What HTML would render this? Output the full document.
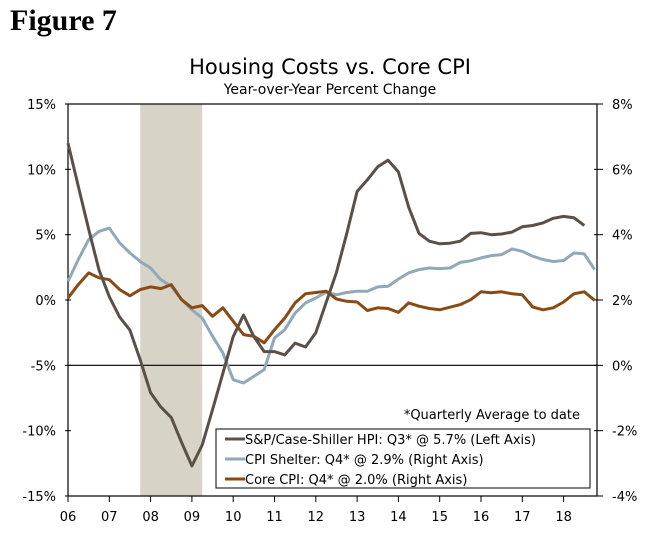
<!DOCTYPE html>
<html><head><meta charset="utf-8"><style>
body{margin:0;background:#fff;width:656px;height:529px;overflow:hidden}
svg text{font-family:"DejaVu Sans","Liberation Sans",sans-serif;fill:#000}
</style></head><body>
<svg id="chart" width="656" height="529">
<text x="10" y="30" style="font-family:'Liberation Serif',serif;font-weight:bold;font-size:30px">Figure 7</text>
<text x="330" y="74" text-anchor="middle" font-size="21">Housing Costs vs. Core CPI</text>
<text x="330" y="94" text-anchor="middle" font-size="14">Year-over-Year Percent Change</text>
<g id="plot"></g>
</svg>
<script>
const years=["06","07","08","09","10","11","12","13","14","15","16","17","18"];
const leftTicks=[15,10,5,0,-5,-10,-15];
const rightTicks=[8,6,4,2,0,-2,-4];
const recession=[2007.75,2009.25];
const hpi=[12.0,8.7,5.4,2.3,0.25,-1.3,-2.3,-4.6,-7.1,-8.2,-9.0,-10.9,-12.7,-11.1,-8.4,-5.6,-2.8,-1.15,-2.8,-3.95,-3.95,-4.2,-3.3,-3.6,-2.5,-0.2,2.1,5.1,8.3,9.2,10.2,10.7,9.8,7.1,5.1,4.5,4.3,4.35,4.5,5.1,5.15,5.0,5.05,5.2,5.6,5.7,5.9,6.25,6.4,6.3,5.7];
const shelter=[2.57,3.24,3.85,4.1,4.2,3.75,3.44,3.18,2.98,2.62,2.42,2.01,1.7,1.45,0.89,0.38,-0.44,-0.54,-0.34,-0.13,0.84,1.09,1.6,1.91,2.06,2.24,2.16,2.23,2.27,2.27,2.4,2.42,2.64,2.83,2.93,2.98,2.96,2.98,3.15,3.2,3.29,3.36,3.39,3.56,3.49,3.34,3.24,3.18,3.21,3.44,3.41,2.93];
const core=[2.06,2.47,2.83,2.68,2.62,2.32,2.13,2.32,2.4,2.35,2.47,2.01,1.76,1.83,1.5,1.76,1.35,0.94,0.89,0.69,1.09,1.45,1.91,2.19,2.23,2.27,2.03,1.96,1.94,1.68,1.76,1.74,1.62,1.91,1.81,1.74,1.7,1.78,1.86,2.01,2.25,2.22,2.25,2.19,2.16,1.79,1.7,1.76,1.94,2.19,2.25,1.99];
const legendLabels=["S&P/Case-Shiller HPI: Q3* @ 5.7% (Left Axis)","CPI Shelter: Q4* @ 2.9% (Right Axis)","Core CPI: Q4* @ 2.0% (Right Axis)"];

const L=68,R=597,T=104,B=496;
const xT=t=>L+(t-2006)*41.3;
const xQ=i=>xT(2006+i/4);
const yL=v=>T+(15-v)*(B-T)/30;
const yR=v=>T+(8-v)*(B-T)/12;
const NS="http://www.w3.org/2000/svg";
const g=document.getElementById('plot');
function mk(tag,at,txt){const e=document.createElementNS(NS,tag);for(const k in at)e.setAttribute(k,at[k]);if(txt!==undefined)e.textContent=txt;g.appendChild(e);return e;}

let e=mk('rect',{x:xT(recession[0]),y:T,width:xT(recession[1])-xT(recession[0]),height:B-T,fill:'#d8d3c7'});


e=mk('rect',{x:L,y:T,width:R-L,height:B-T,fill:'none',stroke:'#000','stroke-width':1.2});


e=mk('line',{x1:L,x2:R,y1:yR(0),y2:yR(0),stroke:'#000','stroke-width':1.2});



leftTicks.forEach(v=>{
 e=mk('line',{x1:L-3,x2:L+3,y1:yL(v),y2:yL(v),stroke:'#000'});
 
 
 e=mk('text',{x:56,y:yL(v)+5,'text-anchor':'end','font-size':13},v+'%');
 
 
});
rightTicks.forEach(v=>{
 e=mk('line',{x1:R-3,x2:R+6,y1:yR(v),y2:yR(v),stroke:'#000'});
 
 
 e=mk('text',{x:612,y:yR(v)+5,'font-size':13},v+'%');
 
 
});
years.forEach((y,i)=>{
 const x=xT(2006+i);
 e=mk('line',{x1:x,x2:x,y1:B,y2:B+6,stroke:'#000'});
 
 
 e=mk('text',{x:x,y:521,'text-anchor':'middle','font-size':13},y);
 
 
});

function line(arr,yf,col,name){
 const d=arr.map((v,i)=>(i?'L':'M')+xQ(i).toFixed(1)+','+yf(v).toFixed(1)).join('');
 const p=mk('path',{d:d,fill:'none',stroke:col,'stroke-width':3,'stroke-linejoin':'round'});
 
 
}
line(shelter,yR,'#8fa9b9','cpi-shelter-line');
line(core,yR,'#8a4a14','core-cpi-line');
line(hpi,yL,'#5a5048','case-shiller-hpi-line');

e=mk('text',{x:580,y:419,'text-anchor':'end','font-size':13},'*Quarterly Average to date');


e=mk('rect',{x:216,y:429,width:374,height:59,fill:'#fff',stroke:'#000'});


const cols=['#5a5048','#8fa9b9','#8a4a14'];
legendLabels.forEach((t,i)=>{
 const y=439+i*20;
 e=mk('line',{x1:225,x2:245,y1:y,y2:y,stroke:cols[i],'stroke-width':3});
 
 
 e=mk('text',{x:245,y:y+5,'font-size':13},t);
 
 
});
</script>
</body></html>
